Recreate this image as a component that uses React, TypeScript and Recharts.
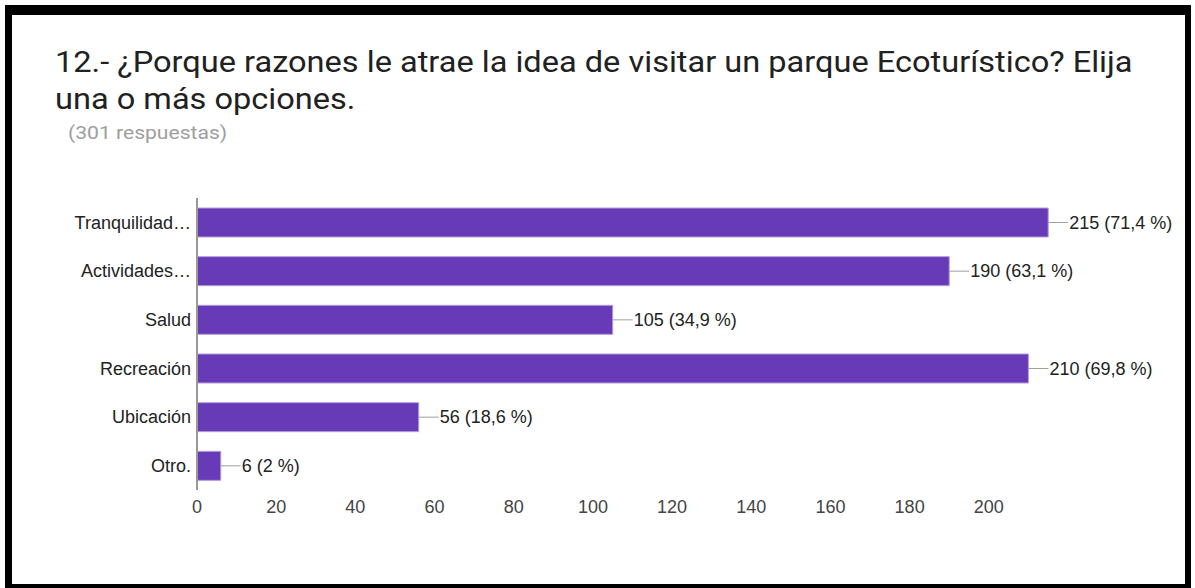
import { BarChart, Bar, XAxis, YAxis, LabelList } from "recharts";

// ─── Data ──────────────────────────────────────────────────────────────────
const categories = [
  "Tranquilidad…",
  "Actividades…",
  "Salud",
  "Recreación",
  "Ubicación",
  "Otro.",
];
const counts = [215, 190, 105, 210, 56, 6];
const percents = ["71,4", "63,1", "34,9", "69,8", "18,6", "2"];
const xTicks = [0, 20, 40, 60, 80, 100, 120, 140, 160, 180, 200];

const TITLE_LINE_1 =
  "12.- ¿Porque razones le atrae la idea de visitar un parque Ecoturístico? Elija";
const TITLE_LINE_2 = "una o más opciones.";
const SUBTITLE = "(301 respuestas)";

const BAR_COLOR = "#673ab7";
const AXIS_FONT = "Arial, 'Liberation Sans', sans-serif";

const data = categories.map((name, i) => ({
  name,
  value: counts[i],
  label: `${counts[i]} (${percents[i]} %)`,
}));

// leader line + value text at the end of each bar
function ValueLabel(props: any) {
  const { x, y, width, height, index } = props;
  const endX = Number(x) + Number(width);
  const midY = Number(y) + Number(height) / 2;
  return (
    <g>
      <line
        x1={endX}
        x2={endX + 20}
        y1={midY}
        y2={midY}
        stroke="#9e9e9e"
        strokeWidth={1}
      />
      <text
        x={endX + 21}
        y={midY}
        dy="0.35em"
        fontSize={18}
        fontFamily={AXIS_FONT}
        fill="#222"
      >
        {data[index]?.label}
      </text>
    </g>
  );
}

export default function App() {
  return (
    <div
      style={{
        position: "absolute",
        left: 0,
        top: 0,
        width: 1195,
        height: 588,
        background: "#fff",
        overflow: "hidden",
      }}
    >
      <div
        style={{
          position: "absolute",
          left: 5,
          top: 5,
          width: 1186,
          height: 583,
          boxSizing: "border-box",
          borderStyle: "solid",
          borderColor: "#000",
          borderWidth: "10px 6px 4px 7px",
        }}
      />
      <div
        style={{
          position: "absolute",
          left: 55,
          top: 43,
          fontFamily: "Roboto, sans-serif",
          fontSize: 30,
          lineHeight: "37px",
          color: "#212121",
          whiteSpace: "nowrap",
          transform: "scaleX(1.085)",
          transformOrigin: "left top",
        }}
      >
        {TITLE_LINE_1}
        <br />
        {TITLE_LINE_2}
      </div>
      <div
        style={{
          position: "absolute",
          left: 68,
          top: 122,
          fontFamily: "Roboto, sans-serif",
          fontSize: 19,
          lineHeight: "22px",
          color: "#9e9e9e",
          whiteSpace: "nowrap",
          transform: "scaleX(1.11)",
          transformOrigin: "left top",
        }}
      >
        {SUBTITLE}
      </div>
      <div style={{ position: "absolute", left: 0, top: 0 }}>
        <BarChart
          width={1195}
          height={588}
          data={data}
          layout="vertical"
          margin={{ top: 198, right: 127, bottom: 68, left: 0 }}
          barSize={29}
        >
          <XAxis
            type="number"
            domain={[0, 220]}
            ticks={xTicks}
            axisLine={false}
            tickLine={false}
            height={30}
            tickMargin={4}
            tick={{ fontSize: 18, fontFamily: AXIS_FONT, fill: "#444" }}
          />
          <YAxis
            type="category"
            dataKey="name"
            width={197}
            axisLine={{ stroke: "#999", strokeWidth: 2 }}
            tickLine={false}
            tickSize={0}
            tickMargin={6}
            tick={{ fontSize: 18, fontFamily: AXIS_FONT, fill: "#222" }}
          />
          <Bar
            dataKey="value"
            fill={BAR_COLOR}
            stroke="#b39ddb"
            strokeWidth={1}
            isAnimationActive={false}
          >
            <LabelList dataKey="label" content={ValueLabel} />
          </Bar>
        </BarChart>
      </div>
    </div>
  );
}
